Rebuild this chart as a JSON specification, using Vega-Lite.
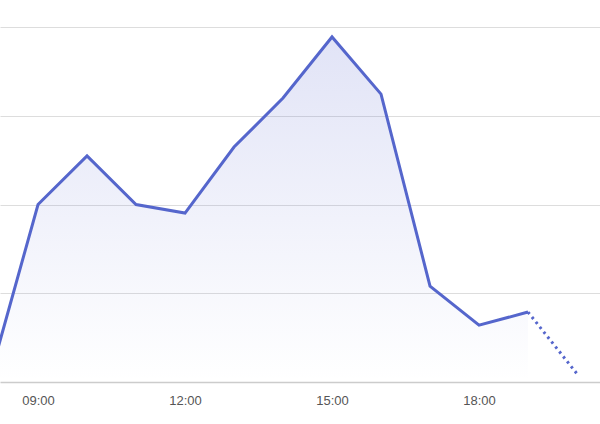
{
  "$schema": "https://vega.github.io/schema/vega-lite/v6.json",
  "width": 600,
  "height": 355,
  "autosize": {"type": "none"},
  "padding": {"top": 27, "left": 0, "right": 0, "bottom": 42},
  "background": "white",
  "config": {"view": {"stroke": null}, "font": "Liberation Sans"},
  "datasets": {
    "solid": [
      {"hour": 8, "value": 0.5},
      {"hour": 9, "value": 50},
      {"hour": 10, "value": 63.7},
      {"hour": 11, "value": 50},
      {"hour": 12, "value": 47.6},
      {"hour": 13, "value": 66.2},
      {"hour": 14, "value": 80},
      {"hour": 15, "value": 97.2},
      {"hour": 16, "value": 81.1},
      {"hour": 17, "value": 27},
      {"hour": 18, "value": 16},
      {"hour": 19, "value": 19.7}
    ],
    "dotted": [
      {"hour": 19, "value": 19.7},
      {"hour": 20, "value": 2.3}
    ]
  },
  "encoding": {
    "x": {
      "field": "hour",
      "type": "quantitative",
      "scale": {"domain": [8.224, 20.469], "nice": false, "zero": false},
      "axis": {
        "title": null,
        "values": [9, 12, 15, 18],
        "labelExpr": "(datum.value < 10 ? '0' : '') + datum.value + ':00'",
        "grid": false,
        "ticks": false,
        "labelPadding": 12,
        "labelFontSize": 13,
        "labelColor": "#555555",
        "domainColor": "#cccccc",
        "domainWidth": 1.5
      }
    },
    "y": {
      "field": "value",
      "type": "quantitative",
      "scale": {"domain": [0, 100], "nice": false},
      "axis": {
        "title": null,
        "values": [25, 50, 75, 100],
        "labels": false,
        "ticks": false,
        "domain": false,
        "grid": true,
        "gridColor": "#dddddd",
        "gridWidth": 1
      }
    }
  },
  "layer": [
    {
      "data": {"name": "solid"},
      "mark": {
        "type": "area",
        "clip": true,
        "color": {
          "gradient": "linear",
          "x1": 0, "y1": 0, "x2": 0, "y2": 1,
          "stops": [
            {"offset": 0, "color": "rgba(90,103,208,0.18)"},
            {"offset": 1, "color": "rgba(90,103,208,0.0)"}
          ]
        }
      }
    },
    {
      "data": {"name": "solid"},
      "mark": {"type": "line", "clip": true, "color": "#5566cc", "strokeWidth": 3, "strokeJoin": "miter"}
    },
    {
      "data": {"name": "dotted"},
      "mark": {"type": "line", "clip": true, "color": "#5566cc", "strokeWidth": 3, "strokeDash": [2.5, 3.8]}
    }
  ]
}
